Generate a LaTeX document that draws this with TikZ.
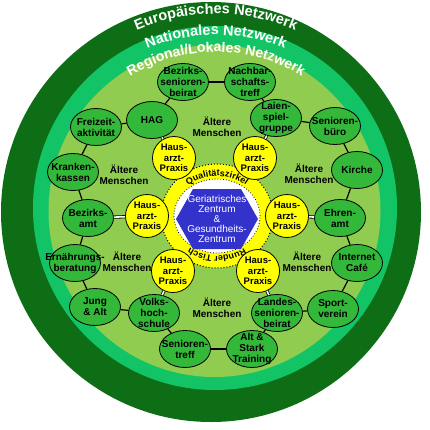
\documentclass[tikz,border=0pt]{standalone}
\usepackage{fontspec}
\setmainfont{Liberation Sans}
\usetikzlibrary{positioning, calc, shapes.geometric, decorations.text}
\definecolor{DeepGreen}{HTML}{0D6E15}
\definecolor{MintGreen}{HTML}{12C466}
\definecolor{LeafGreen}{HTML}{90CC50}
\definecolor{NodeGreen}{HTML}{33B83A}
\definecolor{PraxisYellow}{HTML}{FFFF00}
\definecolor{CentreBlue}{HTML}{3333CC}

\begin{document}
\begin{tikzpicture}[
  x=1pt, y=1pt,
  netz/.style={ellipse, draw=black, fill=NodeGreen, line width=0.8pt,
    minimum width=51pt, minimum height=37pt, inner xsep=-12pt, inner ysep=-6pt,
    align=center, font=\fontsize{10}{11}\selectfont\bfseries},
  praxis/.style={circle, draw=black, fill=PraxisYellow, line width=0.8pt,
    minimum size=43pt, inner sep=-2pt, align=center,
    font=\fontsize{9.5}{10.5}\selectfont\bfseries},
  aelter/.style={align=center, font=\fontsize{10}{11.5}\selectfont\bfseries},
  verb/.style={draw=black, line width=1.2pt},
  dverb/.style={draw=black, line width=0.8pt, double=white, double distance=1.6pt},
  bogen/.style={decorate, decoration={text along path, text align=center, text={#1}}}
]
  \path[use as bounding box, fill=white] (-215,-214) rectangle (215,215);
  \coordinate (mid) at (1,-2);
  \coordinate (kern) at (2,-1);

  % network rings
  \fill[DeepGreen] (-4,3) circle[radius=210];
  \fill[MintGreen] (0,7) circle[radius=182];
  \fill[LeafGreen] (-0.5,4) circle[radius=166];

  \path[bogen={|\color{white}\fontsize{14.5}{16}\selectfont\bfseries|Europäisches Netzwerk}]
    (mid) ++(165:203) arc[start angle=165, end angle=15, radius=203];
  \path[bogen={|\color{white}\fontsize{14.5}{16}\selectfont\bfseries|Nationales Netzwerk}]
    (mid) ++(165:182) arc[start angle=165, end angle=15, radius=182];
  \path[bogen={|\color{white}\fontsize{14}{16}\selectfont\bfseries|Regional/Lokales Netzwerk}]
    (mid) ++(165:165) arc[start angle=165, end angle=15, radius=165];

  % centre
  \fill[PraxisYellow] (kern) ellipse[x radius=56, y radius=52];
  \draw[dotted, line width=1pt] (kern) ellipse[x radius=56, y radius=52];
  \filldraw[fill=white, draw=black, dotted, line width=0.8pt] (kern) ellipse[x radius=43, y radius=37];
  \fill[CentreBlue] ($(kern)+(-41,-3)$) -- ++(17,30) -- ++(48,0) -- ++(17,-30)
    -- ++(-17,-30) -- ++(-48,0) -- cycle;
  \node[text=white, align=center, font=\fontsize{10}{10}\selectfont] (gz) at ($(kern)+(0,-3)$)
    {Geriatrisches\\Zentrum\\\&\\Gesundheits-\\Zentrum};
  \path[bogen={|\fontsize{9}{10}\selectfont\bfseries|Qualitätszirkel}]
    (kern) ++(150:45 and 40) arc[start angle=150, end angle=30, x radius=45, y radius=40];
  \path[bogen={|\fontsize{9}{10}\selectfont\bfseries|Runder Tisch}]
    (kern) ++(-30:45 and 40) arc[start angle=-30, end angle=-150, x radius=45, y radius=40];

  % Hausarzt-Praxen
  \node[praxis] (ha1) at (-41,57) {Haus-\\arzt-\\Praxis};
  \node[praxis] (ha2) at (40,57) {Haus-\\arzt-\\Praxis};
  \node[praxis] (ha3) at (-68,-1) {Haus-\\arzt-\\Praxis};
  \node[praxis] (ha4) at (72,-1) {Haus-\\arzt-\\Praxis};
  \node[praxis] (ha5) at (-42,-56) {Haus-\\arzt-\\Praxis};
  \node[praxis] (ha6) at (43,-56) {Haus-\\arzt-\\Praxis};

  % partners
  \node[netz] (bsb) at (-32,133) {Bezirks-\\senioren-\\beirat};
  \node[netz] (nbt) at (35,133) {Nachbar-\\schafts-\\treff};
  \node[netz] (hag) at (-63,95) {HAG};
  \node[netz] (lsg) at (61,97) {Laien-\\spiel-\\gruppe};
  \node[netz] (sbu) at (120,89) {Senioren-\\büro};
  \node[netz] (fza) at (-119,88) {Freizeit-\\aktivität};
  \node[netz] (kk) at (-142,43) {Kranken-\\kassen};
  \node[netz] (ki) at (142,45) {Kirche};
  \node[netz] (ba) at (-127,-3) {Bezirks-\\amt};
  \node[netz] (ea) at (125,-3) {Ehren-\\amt};
  \node[netz] (eb) at (-140,-48) {Ernährungs-\\beratung};
  \node[netz] (ic) at (142,-48) {Internet\\Café};
  \node[netz] (ja) at (-120,-92) {Jung\\\& Alt};
  \node[netz] (vhs) at (-61,-98) {Volks-\\hoch-\\schule};
  \node[netz] (lsb) at (62,-98) {Landes-\\senioren-\\beirat};
  \node[netz] (sv) at (118,-94) {Sport-\\verein};
  \node[netz] (st) at (-30,-134) {Senioren-\\treff};
  \node[netz] (ast) at (37,-134) {Alt \&\\Stark\\Training};

  \draw[verb] (hag) -- (bsb);
  \draw[verb] (bsb) -- (nbt);
  \draw[verb] (nbt) -- (lsg);
  \draw[verb] (lsg) -- (sbu);
  \draw[verb] (sbu) -- (ki);
  \draw[verb] (ki) -- (ea);
  \draw[verb] (ea) -- (ic);
  \draw[verb] (ic) -- (sv);
  \draw[verb] (sv) -- (lsb);
  \draw[verb] (lsb) -- (ast);
  \draw[verb] (ast) -- (st);
  \draw[verb] (st) -- (vhs);
  \draw[verb] (vhs) -- (ja);
  \draw[verb] (ja) -- (eb);
  \draw[verb] (eb) -- (ba);
  \draw[verb] (ba) -- (kk);
  \draw[verb] (kk) -- (fza);
  \draw[verb] (fza) -- (hag);

  \draw[dverb] (ha1) -- (hag);
  \draw[dverb] (ha2) -- (lsg);
  \draw[dverb] (ha3) -- (ba);
  \draw[dverb] (ha4) -- (ea);
  \draw[dverb] (ha5) -- (vhs);
  \draw[dverb] (ha6) -- (lsb);

  \node[aelter] (am1) at (2,88) {Ältere\\Menschen};
  \node[aelter] (am2) at (-91,40) {Ältere\\Menschen};
  \node[aelter] (am3) at (94,41) {Ältere\\Menschen};
  \node[aelter] (am4) at (-88,-47) {Ältere\\Menschen};
  \node[aelter] (am5) at (92,-47) {Ältere\\Menschen};
  \node[aelter] (am6) at (2,-93) {Ältere\\Menschen};
\end{tikzpicture}
\end{document}
